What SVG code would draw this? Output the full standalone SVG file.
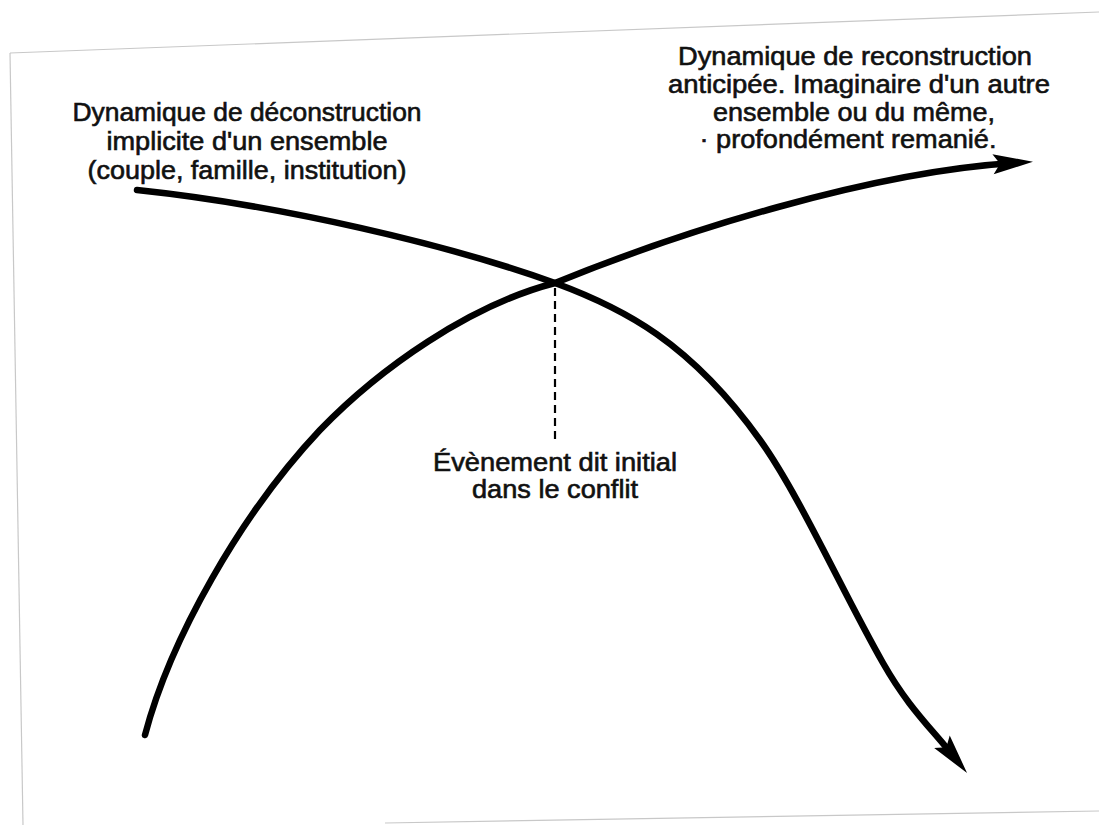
<svg xmlns="http://www.w3.org/2000/svg" width="1099" height="825" viewBox="0 0 1099 825">
  <style>
    .lbl { font-family: "Liberation Sans", Arial, sans-serif; font-size: 25px; fill: #111; stroke: #111; stroke-width: 0.6px; text-anchor: middle; }
    .curve { fill: none; stroke: #000; stroke-width: 6.5; stroke-linecap: round; stroke-linejoin: round; }
    .dash { fill: none; stroke: #000; stroke-width: 2.2; stroke-dasharray: 8 5; }
    .page { fill: none; stroke: #c8c8c8; stroke-width: 1.2; }
  </style>
  <defs>
    <marker id="head" markerUnits="userSpaceOnUse" viewBox="0 0 44 24" markerWidth="44" markerHeight="24" refX="22" refY="12" orient="auto">
      <path d="M2,2 L42,12 L2,22 L9,12 Z" fill="#000"/>
    </marker>
  </defs>
  <rect width="1099" height="825" fill="#fff"/>

  <g id="page-edges">
    <path class="page" d="M10,53 L1099,12"/>
    <path class="page" d="M10,53 L23,825"/>
    <path class="page" d="M385,823 L1099,811"/>
  </g>

  <g id="connectors">
    <path id="deconstruction-curve" class="curve" marker-end="url(#head)" d="M137,190 C280,205 450,245 555,283 C623,308 690,342 760,440 C800,496 843,593 883,663 C908,707 929.5,726.4 954.5,757.4"/>
    <path id="reconstruction-curve" class="curve" marker-end="url(#head)" d="M145,735 C170,640 240,515 320,430 C380,368 470,305 555,283 C680,232 870,172 1013,163"/>
    <path id="event-line" class="dash" d="M555,288 L555,439"/>
  </g>

  <g id="label-deconstruction">
    <text class="lbl" x="247" y="121" textLength="349" lengthAdjust="spacingAndGlyphs">Dynamique de déconstruction</text>
    <text class="lbl" x="247" y="150" textLength="281" lengthAdjust="spacingAndGlyphs">implicite d'un ensemble</text>
    <text class="lbl" x="247" y="179" textLength="319" lengthAdjust="spacingAndGlyphs">(couple, famille, institution)</text>
  </g>

  <g id="label-reconstruction">
    <text class="lbl" x="855" y="65" textLength="354" lengthAdjust="spacingAndGlyphs">Dynamique de reconstruction</text>
    <text class="lbl" x="859" y="93" textLength="382" lengthAdjust="spacingAndGlyphs">anticipée. Imaginaire d'un autre</text>
    <text class="lbl" x="854" y="121" textLength="282" lengthAdjust="spacingAndGlyphs">ensemble ou du même,</text>
    <text class="lbl" x="848" y="148" textLength="297" lengthAdjust="spacingAndGlyphs">· profondément remanié.</text>
  </g>

  <g id="label-event">
    <text class="lbl" x="555" y="471" textLength="244" lengthAdjust="spacingAndGlyphs">Évènement dit initial</text>
    <text class="lbl" x="555" y="498" textLength="166" lengthAdjust="spacingAndGlyphs">dans le conflit</text>
  </g>
</svg>
